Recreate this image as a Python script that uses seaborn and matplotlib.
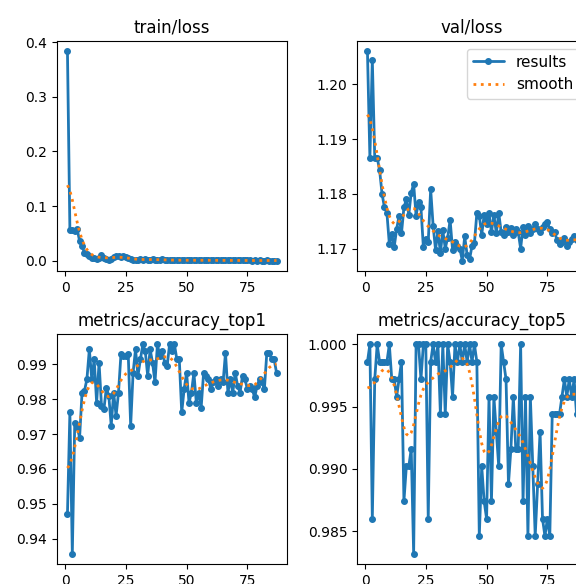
import numpy as np
import pandas as pd
import matplotlib
matplotlib.use("Agg")
import matplotlib.pyplot as plt
from matplotlib.ticker import MultipleLocator, ScalarFormatter
import seaborn as sns

epochs = list(range(1, 88))

train_loss = [
    0.383, 0.057, 0.057, 0.055, 0.058, 0.036, 0.028, 0.014, 0.012, 0.009,
    0.006, 0.005, 0.004, 0.006, 0.010, 0.006, 0.003, 0.002, 0.004, 0.007,
    0.008, 0.009, 0.007, 0.008, 0.007, 0.005, 0.004, 0.002, 0.001, 0.002,
    0.003, 0.002, 0.003, 0.002, 0.002, 0.003, 0.002, 0.002, 0.002, 0.003,
    0.0015, 0.0012, 0.0015, 0.001, 0.0012, 0.001, 0.0012, 0.001, 0.0011, 0.001,
    0.0012, 0.001, 0.0009, 0.001, 0.0011, 0.0009, 0.001, 0.0012, 0.0009, 0.0008,
    0.0009, 0.0008, 0.0009, 0.0008, 0.0007, 0.0008, 0.0007, 0.0008, 0.0007, 0.0007,
    0.0006, 0.0007, 0.0006, 0.0007, 0.0006, 0.0006, 0.0005, 0.0006, 0.0005, 0.0006,
    0.0005, 0.0005, 0.0006, 0.0005, 0.0005, 0.0005, 0.0005,
]

val_loss = [
    1.2060, 1.1866, 1.2045, 1.1866, 1.1866, 1.1843, 1.1800, 1.1775, 1.1765, 1.1708,
    1.1726, 1.1703, 1.1735, 1.1760, 1.1728, 1.1775, 1.1790, 1.1762, 1.1802, 1.1818,
    1.1760, 1.1785, 1.1775, 1.1702, 1.1718, 1.1712, 1.1808, 1.1742, 1.1698, 1.1732,
    1.1692, 1.1733, 1.1700, 1.1720, 1.1752, 1.1698, 1.1712, 1.1705, 1.1700, 1.1678,
    1.1722, 1.1688, 1.1680, 1.1705, 1.1710, 1.1765, 1.1760, 1.1725, 1.1762, 1.1745,
    1.1765, 1.1730, 1.1762, 1.1728, 1.1765, 1.1730, 1.1725, 1.1740, 1.1730, 1.1738,
    1.1725, 1.1735, 1.1730, 1.1700, 1.1740, 1.1725, 1.1742, 1.1728, 1.1735, 1.1745,
    1.1735, 1.1730, 1.1740, 1.1745, 1.1748, 1.1735, 1.1728, 1.1730, 1.1715, 1.1708,
    1.1712, 1.1720, 1.1705, 1.1712, 1.1718, 1.1722, 1.1715,
]

acc_top1 = [
    0.9470, 0.9762, 0.9357, 0.9733, 0.9719, 0.9690, 0.9819, 0.9824, 0.9857, 0.9943,
    0.9857, 0.9914, 0.9790, 0.9905, 0.9781, 0.9771, 0.9833, 0.9810, 0.9724, 0.9819,
    0.9752, 0.9819, 0.9929, 0.9924, 0.9924, 0.9929, 0.9724, 0.9876, 0.9943, 0.9867,
    0.9914, 0.9957, 0.9938, 0.9867, 0.9943, 0.9905, 0.9848, 0.9957, 0.9924, 0.9938,
    0.9905, 0.9895, 0.9957, 0.9938, 0.9957, 0.9914, 0.9914, 0.9762, 0.9829, 0.9876,
    0.9790, 0.9819, 0.9876, 0.9790, 0.9819, 0.9776, 0.9876, 0.9867, 0.9857, 0.9829,
    0.9848, 0.9857, 0.9838, 0.9857, 0.9848, 0.9933, 0.9819, 0.9857, 0.9819, 0.9876,
    0.9838, 0.9819, 0.9867, 0.9857, 0.9829, 0.9838, 0.9829, 0.9805, 0.9838, 0.9857,
    0.9848, 0.9829, 0.9933, 0.9933, 0.9914, 0.9914, 0.9876,
]

acc_top5 = [
    0.9986, 1.0000, 0.9860, 0.9972, 1.0000, 0.9986, 0.9986, 0.9986, 0.9986, 1.0000,
    0.9972, 0.9972, 0.9958, 0.9972, 0.9986, 0.9874, 0.9902, 0.9902, 0.9916, 0.9832,
    1.0000, 1.0000, 0.9972, 1.0000, 1.0000, 0.9860, 0.9986, 1.0000, 0.9986, 1.0000,
    0.9944, 1.0000, 0.9944, 1.0000, 0.9986, 0.9958, 1.0000, 0.9986, 1.0000, 0.9986,
    1.0000, 0.9986, 1.0000, 0.9986, 1.0000, 0.9986, 0.9846, 0.9902, 0.9874, 0.9860,
    0.9958, 0.9874, 0.9958, 0.9930, 0.9902, 1.0000, 0.9986, 0.9972, 0.9888, 0.9916,
    0.9958, 0.9916, 0.9916, 1.0000, 0.9874, 0.9958, 0.9846, 0.9958, 0.9902, 0.9846,
    0.9888, 0.9930, 0.9860, 0.9846, 0.9860, 0.9846, 0.9944, 0.9944, 0.9944, 0.9944,
    0.9958, 0.9972, 0.9958, 0.9972, 0.9958, 0.9972, 0.9944,
]

titles = ["train/loss", "val/loss", "metrics/accuracy_top1", "metrics/accuracy_top5"]
series = [train_loss, val_loss, acc_top1, acc_top5]
tick_steps = [0.1, 0.01, 0.01, 0.005]


def gaussian_smooth(y, sigma=3.0, truncate=4.0):
    y = np.asarray(y, dtype=float)
    r = int(truncate * sigma + 0.5)
    k = np.arange(-r, r + 1)
    w = np.exp(-0.5 * (k / sigma) ** 2)
    w /= w.sum()
    padded = np.pad(y, r, mode="symmetric")
    return np.convolve(padded, w, mode="valid")


sns.set_style("ticks")
plt.rcParams["font.family"] = ["DejaVu Sans"]
plt.rcParams["axes.edgecolor"] = "black"
plt.rcParams["xtick.color"] = "black"
plt.rcParams["ytick.color"] = "black"
plt.rcParams["text.color"] = "black"

W, H = 576, 584
fig = plt.figure(figsize=(W / 100, H / 100), dpi=100)

axw, axh = 230, 230
lefts = [57, 357]
tops = [41, 334]
boxes = [(lefts[0], tops[0]), (lefts[1], tops[0]), (lefts[0], tops[1]), (lefts[1], tops[1])]

for i, (title, vals, step) in enumerate(zip(titles, series, tick_steps)):
    lx, ty = boxes[i]
    ax = fig.add_axes([lx / W, 1 - (ty + axh) / H, axw / W, axh / H])
    df = pd.DataFrame({"epoch": epochs, "value": vals, "smooth": gaussian_smooth(vals)})
    sns.lineplot(data=df, x="epoch", y="value", ax=ax, color="#1f77b4", marker=".",
                 markersize=8, linewidth=2, markeredgecolor="#1f77b4",
                 markeredgewidth=1, label="results")
    sns.lineplot(data=df, x="epoch", y="smooth", ax=ax, color="#ff7f0e",
                 linestyle=":", linewidth=2, label="smooth")
    ax.set_title(title, fontsize=12)
    ax.set_xlabel("")
    ax.set_ylabel("")
    ax.xaxis.set_major_locator(MultipleLocator(25))
    ax.yaxis.set_major_locator(MultipleLocator(step))
    fmt = ScalarFormatter(useOffset=False)
    ax.yaxis.set_major_formatter(fmt)
    ax.tick_params(labelsize=10, length=3.5, width=0.8)
    for s in ax.spines.values():
        s.set_visible(True)
        s.set_linewidth(0.8)
        s.set_color("black")
    if i == 1:
        ax.legend(loc="upper right", fontsize=11)
    else:
        leg = ax.get_legend()
        if leg is not None:
            leg.remove()

fig.savefig("out.png", dpi=100)
